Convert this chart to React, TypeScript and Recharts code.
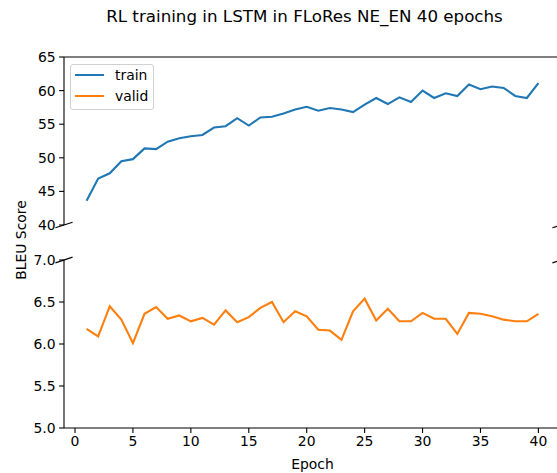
import { LineChart, Line, XAxis, YAxis, ReferenceLine } from 'recharts';

const epochs = Array.from({ length: 40 }, (_, i) => i + 1);

const trainBleu = [
  43.6, 46.9, 47.7, 49.5, 49.8, 51.4, 51.3, 52.4, 52.9, 53.2,
  53.4, 54.5, 54.7, 55.9, 54.8, 56.0, 56.1, 56.6, 57.2, 57.6,
  57.0, 57.4, 57.2, 56.8, 57.9, 58.9, 58.0, 59.0, 58.3, 60.0,
  58.9, 59.6, 59.2, 60.9, 60.2, 60.6, 60.4, 59.2, 58.9, 61.1,
];

const validBleu = [
  6.18, 6.09, 6.45, 6.29, 6.01, 6.36, 6.44, 6.3, 6.34, 6.27,
  6.31, 6.23, 6.4, 6.26, 6.32, 6.43, 6.5, 6.26, 6.39, 6.33,
  6.17, 6.16, 6.05, 6.39, 6.54, 6.28, 6.42, 6.27, 6.27, 6.37,
  6.3, 6.3, 6.12, 6.37, 6.36, 6.33, 6.29, 6.27, 6.27, 6.36,
];

const epochTicks = [0, 5, 10, 15, 20, 25, 30, 35, 40];
const trainTicks = [40, 45, 50, 55, 60, 65];
const validTicks = [5.0, 5.5, 6.0, 6.5, 7.0];

const trainData = epochs.map((e, i) => ({ epoch: e, train: trainBleu[i] }));
const validData = epochs.map((e, i) => ({ epoch: e, valid: validBleu[i] }));

const BLUE = '#1f77b4';
const ORANGE = '#ff7f0e';
const FONT = '"DejaVu Sans", sans-serif';
const X_DOMAIN: [number, number] = [-0.95, 41.95];
const tickStyle = { fill: '#000', fontSize: 13.9, fontFamily: FONT };
const axisStroke = { stroke: '#000', strokeWidth: 1.1 };

// diagonal "//" marks where the y axis is cut
const breakMark = (x: number, y: number, dx: number, dy: number) => [
  { x: x - dx, y: y - dy },
  { x: x + dx, y: y + dy },
];

export default function App() {
  return (
    <div style={{ position: 'absolute', left: 0, top: 0, width: 557, height: 473, overflow: 'hidden', background: '#fff', fontFamily: FONT }}>
      <div style={{ position: 'absolute', left: 304.5, top: 6, transform: 'translateX(-50%)', whiteSpace: 'nowrap', fontSize: 16.7, color: '#000' }}>
        RL training in LSTM in FLoRes NE_EN 40 epochs
      </div>

      <div style={{ position: 'absolute', left: 21, top: 240, transform: 'translate(-50%, -50%) rotate(-90deg)', whiteSpace: 'nowrap', fontSize: 13.9, color: '#000' }}>
        BLEU Score
      </div>

      <div style={{ position: 'absolute', left: 0, top: 0 }}>
        <LineChart width={575} height={240} data={trainData} margin={{ top: 37, right: 14, bottom: 15, left: 0 }}>
          <XAxis
            dataKey="epoch"
            type="number"
            orientation="top"
            domain={X_DOMAIN}
            ticks={epochTicks}
            allowDataOverflow
            height={20}
            tick={false}
            tickSize={4.9}
            axisLine={axisStroke}
            tickLine={axisStroke}
          />
          <YAxis
            type="number"
            domain={[40, 65]}
            ticks={trainTicks}
            allowDataOverflow
            width={64}
            tick={tickStyle}
            tickSize={4.9}
            tickMargin={3.5}
            axisLine={axisStroke}
            tickLine={axisStroke}
          />
          <ReferenceLine segment={breakMark(-0.95, 40, 0.74, 0.42)} ifOverflow="visible" stroke="#000" strokeWidth={1.1} />
          <ReferenceLine segment={breakMark(41.95, 40, 0.74, 0.42)} ifOverflow="visible" stroke="#000" strokeWidth={1.1} />
          <Line type="linear" dataKey="train" stroke={BLUE} strokeWidth={2.1} dot={false} isAnimationActive={false} />
        </LineChart>
      </div>

      <div style={{ position: 'absolute', left: 0, top: 240 }}>
        <LineChart width={575} height={233} data={validData} margin={{ top: 20, right: 14, bottom: 0, left: 0 }}>
          <XAxis
            dataKey="epoch"
            type="number"
            domain={X_DOMAIN}
            ticks={epochTicks}
            allowDataOverflow
            height={45}
            tick={tickStyle}
            tickSize={4.9}
            tickMargin={3.5}
            axisLine={axisStroke}
            tickLine={axisStroke}
            label={{ value: 'Epoch', position: 'insideBottom', offset: 4, fill: '#000', fontSize: 13.9, fontFamily: FONT }}
          />
          <YAxis
            type="number"
            domain={[5, 7]}
            ticks={validTicks}
            allowDataOverflow
            width={64}
            tick={tickStyle}
            tickFormatter={(v: number) => v.toFixed(1)}
            tickSize={4.9}
            tickMargin={3.5}
            axisLine={axisStroke}
            tickLine={axisStroke}
          />
          <ReferenceLine segment={breakMark(-0.95, 7, 0.74, 0.034)} ifOverflow="visible" stroke="#000" strokeWidth={1.1} />
          <ReferenceLine segment={breakMark(41.95, 7, 0.74, 0.034)} ifOverflow="visible" stroke="#000" strokeWidth={1.1} />
          <Line type="linear" dataKey="valid" stroke={ORANGE} strokeWidth={2.1} dot={false} isAnimationActive={false} />
        </LineChart>
      </div>

      <div style={{ position: 'absolute', left: 70, top: 64, width: 84, height: 46, boxSizing: 'border-box', border: '1px solid #d0d0d0', borderRadius: 3, background: 'rgba(255,255,255,0.8)', fontSize: 13.9, color: '#000' }}>
        {[
          { name: 'train', color: BLUE },
          { name: 'valid', color: ORANGE },
        ].map((item, i) => (
          <div key={item.name} style={{ position: 'absolute', left: 4, top: 1 + i * 21, height: 18, display: 'flex', alignItems: 'center' }}>
            <span style={{ display: 'inline-block', width: 29, height: 2.1, background: item.color, marginRight: 11 }} />
            <span>{item.name}</span>
          </div>
        ))}
      </div>
    </div>
  );
}
